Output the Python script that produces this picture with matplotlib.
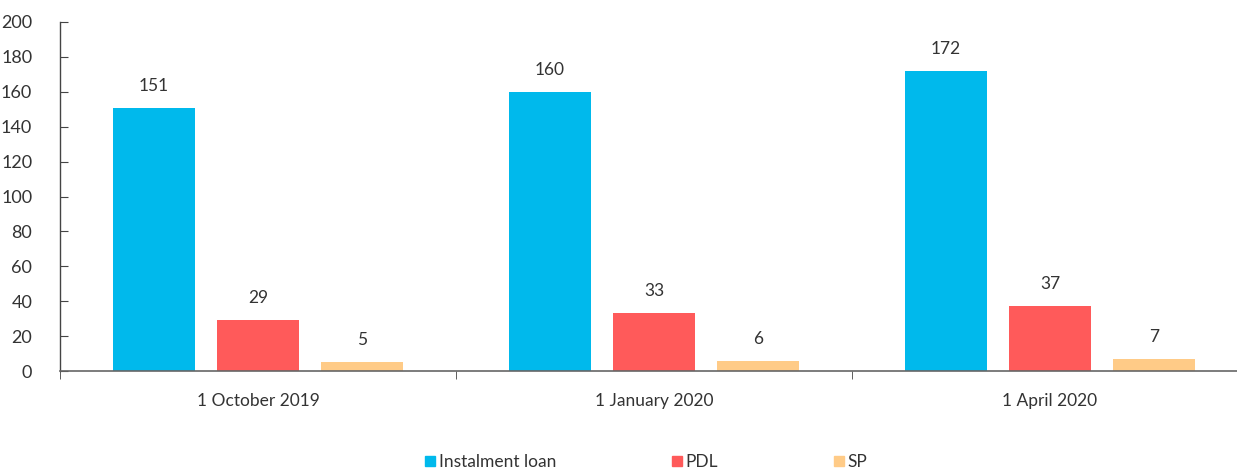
import matplotlib
matplotlib.use("Agg")
import matplotlib.pyplot as plt
import numpy as np
from matplotlib.lines import Line2D

categories = ["1 October 2019", "1 January 2020", "1 April 2020"]
series_names = ["Instalment loan", "PDL", "SP"]
instalment_loan = [151, 160, 172]
pdl = [29, 33, 37]
sp = [5, 6, 7]
colors = ["#00B9EC", "#FF5A5A", "#FFCB87"]

plt.rcParams["font.family"] = ["Lato", "DejaVu Sans"]
text_color = "#333333"

fig = plt.figure(figsize=(12.37, 4.72), dpi=100)
ax = fig.add_axes([60 / 1237, 101 / 472, 1188 / 1237, 349 / 472])

x = np.arange(len(categories))
width = 0.207
offset = 0.263
values = [instalment_loan, pdl, sp]
for i, (vals, col) in enumerate(zip(values, colors)):
    pos = x + (i - 1) * offset
    ax.bar(pos, vals, width=width, color=col, zorder=2)
    for p, v in zip(pos, vals):
        ax.text(p, v + 8, f"{v}", ha="center", va="bottom",
                fontsize=12.5, color=text_color)

ax.set_xlim(-0.5, len(categories) - 0.5)
ax.set_ylim(0, 200)
ax.set_yticks(range(0, 201, 20))
ax.set_xticks(x)
ax.set_xticklabels(categories)
ax.set_xticks(np.arange(-0.5, len(categories)), minor=True)

for s in ["top", "right"]:
    ax.spines[s].set_visible(False)
ax.spines["left"].set_color("#444444")
ax.spines["bottom"].set_color("#666666")
ax.spines["left"].set_linewidth(1.0)
ax.spines["bottom"].set_linewidth(1.2)

ax.tick_params(axis="y", direction="in", length=6, color="#444444",
               labelsize=13, labelcolor=text_color, pad=20)
ax.tick_params(axis="x", which="major", length=0, labelsize=12.5,
               labelcolor=text_color, pad=16)
ax.tick_params(axis="x", which="minor", length=6, color="#444444",
               direction="out")

handles = [Line2D([0], [0], marker="s", linestyle="none", markersize=7.5,
                  markerfacecolor=c, markeredgecolor=c) for c in colors]
fig.legend(handles, series_names, loc="center", ncol=3,
           bbox_to_anchor=(0.522, 10 / 472), frameon=False,
           fontsize=12.5, labelcolor=text_color, handlelength=0.7,
           handletextpad=0.15, columnspacing=6.6)

fig.savefig("out.png", dpi=100)
